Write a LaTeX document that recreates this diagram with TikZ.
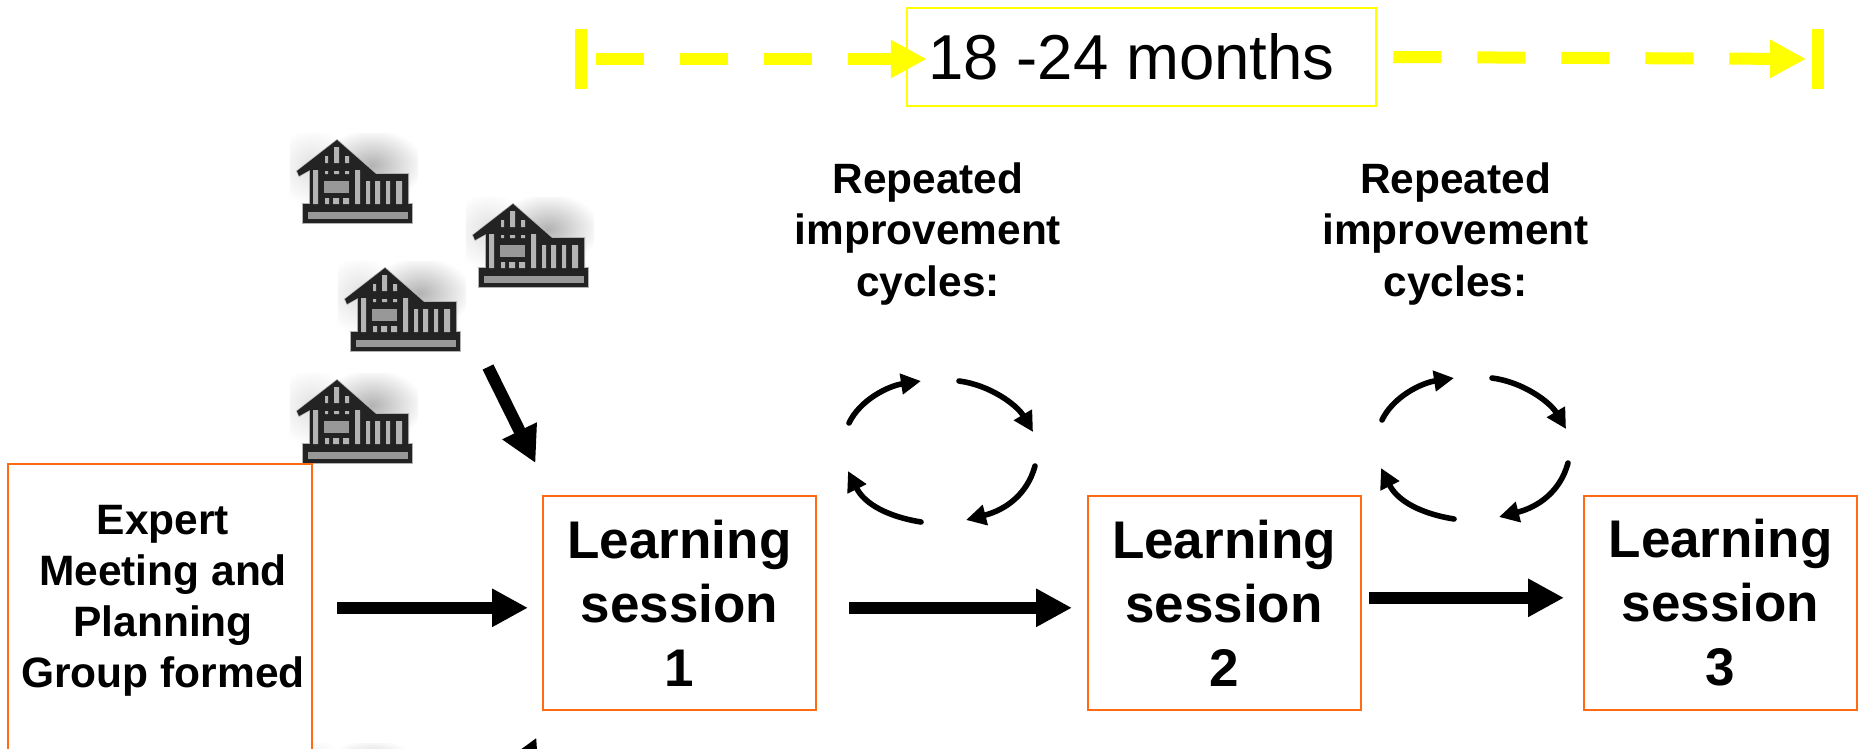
\documentclass[tikz,border=0pt]{standalone}
\usepackage{fontspec}
\setmainfont{Liberation Sans}
\usetikzlibrary{arrows.meta}
\definecolor{boxorange}{HTML}{FF6A13}
\definecolor{ydash}{HTML}{FFFF00}
\definecolor{hdark}{HTML}{232323}
\definecolor{hlight}{HTML}{B4B4B4}
\definecolor{hmid}{HTML}{989898}
\newcommand{\xs}{\hspace*{6pt}}
\tikzset{
  x=1pt,y=-1pt,
  orangebox/.style={draw=boxorange,line width=2pt,inner sep=0pt,align=center,font=\bfseries},
  lsbox/.style={orangebox,minimum width=273pt,minimum height=213.5pt,font=\fontsize{53}{64}\selectfont\bfseries},
  replabel/.style={inner sep=0pt,align=center,font=\fontsize{42.4}{51.5}\selectfont\bfseries},
  bigarrow/.style={line width=12pt,draw=black,-{Triangle[length=36pt,width=36pt]}},
  yarrow/.style={line width=12pt,draw=ydash,dash pattern=on 48pt off 36pt,-{Triangle[length=36pt,width=36pt,fill=ydash]}},
  cyc/.style={line width=5.6pt,line cap=round,draw=black,-{Triangle[length=20pt,width=20pt]}},
  cycle loop/.pic={
    \draw[cyc] (29,63) .. controls (40,40) and (68,26) .. (101,21);
    \draw[cyc] (139,21) .. controls (170,25) and (197,45) .. (213,72);
    \draw[cyc] (215,106) .. controls (207,135) and (185,150) .. (146,160);
    \draw[cyc] (101,162) .. controls (70,157) and (45,145) .. (28,111);
  },
  cabin/.pic={
    \begin{scope}
      \clip (-8,-8) rectangle (120,84);
      \shade[inner color=black!12,outer color=white] (14,26) ellipse (36 and 40);
      \shade[inner color=black!30,outer color=white] (74,24) ellipse (52 and 36);
    \end{scope}
    \fill[gray!60,line join=round]
      (39,-2) -- (-2,30) -- (1,36) -- (11,30) -- (11,66) -- (111,66) -- (111,32) -- (78,32) -- cycle;
    \fill[gray!60] (4,62) rectangle (115,83);
    \fill[hdark,line join=round]
      (39,-1) -- (-1,30) -- (1,35) -- (12,29) -- (12,65) -- (110,65) -- (110,33) -- (78,33) -- cycle;
    \fill[hdark] (5,63) rectangle (114,82);
    \fill[hmid] (10,71) rectangle (110,78);
    \fill[hlight] (27,15) rectangle (30,22) (36,6) rectangle (41,22) (47,15) rectangle (51,22);
    \fill[hlight] (27,30) rectangle (30,33) (36,30) rectangle (41,33) (47,30) rectangle (51,33);
    \fill[hlight] (15,29) rectangle (20,63) (57,29) rectangle (62,63);
    \fill[hmid] (26,40) rectangle (51,52);
    \fill[hlight] (27,57) rectangle (31,63) (35,57) rectangle (41,63) (45,57) rectangle (51,63);
    \fill[hlight] (68,40) rectangle (72,63) (77,40) rectangle (82,63) (88,40) rectangle (92,63) (98,40) rectangle (104,63);
  }
}
\begin{document}
\begin{tikzpicture}
\useasboundingbox (0,0) rectangle (1860,748);
\clip (0,0) rectangle (1860,748);

% houses
\pic at (298,141) {cabin};
\pic at (474,205) {cabin};
\pic at (346,269) {cabin};
\pic at (298,381) {cabin};
\pic at (298,751) {cabin};

% boxes
\node[orangebox,fill=white,minimum width=304pt,minimum height=377pt,font=\fontsize{42.5}{51}\selectfont\bfseries] (expert) at (160,652.5)
  {\xs Expert\\\xs Meeting and\\\xs Planning\\\xs Group formed\\[61pt]\mbox{}};
\node[lsbox] (ls1) at (679.5,602.8) {Learning\\session\\1};
\node[lsbox] (ls2) at (1224,602.8) {Learning\\session\\2};
\node[lsbox] (ls3) at (1720.5,602.8) {Learning\\session\\3};

% top span
\node[draw=ydash,line width=2.5pt,inner sep=0pt,minimum width=469pt,minimum height=98pt,font=\fontsize{63.5}{70}\selectfont] (months) at (1141.5,57)
  {\raisebox{-1pt}{\hspace*{-20pt}18 -24 months}};
\coordinate (ystart) at (596,59);
\coordinate (yend) at (1806,59);
\fill[ydash] (575,29) rectangle (587,89);
\fill[ydash] (1812,29) rectangle (1824,89);
\draw[yarrow] (ystart) -- ([shift={(21,2)}]months.west);
\draw[yarrow] ([shift={(16,0)}]months.east) -- (yend);

% labels
\node[replabel] (rep1) at (928,234) {Repeated\\improvement\\cycles:};
\node[replabel] (rep2) at (1455.5,234) {Repeated\\improvement\\cycles:};

% cycles
\pic at (820,360) {cycle loop};
\pic at (1353,357) {cycle loop};

% main arrows
\coordinate (upper) at (488,367);
\coordinate (lower) at (492,833);
\draw[bigarrow] ([shift={(24,0)}]expert.east |- ls1.west) ++(0,5) -- ([shift={(-14,5)}]ls1.west);
\draw[bigarrow] ([shift={(32,5)}]ls1.east) -- ([shift={(-14.5,5)}]ls2.west);
\draw[bigarrow] ([shift={(7,-5)}]ls2.east) -- ([shift={(-19,-5)}]ls3.west);
\draw[bigarrow] (upper) -- ([shift={(-6.5,-32)}]ls1.north west);
\draw[bigarrow] (lower) -- ([shift={(-5.5,27)}]ls1.south west);
\end{tikzpicture}
\end{document}
